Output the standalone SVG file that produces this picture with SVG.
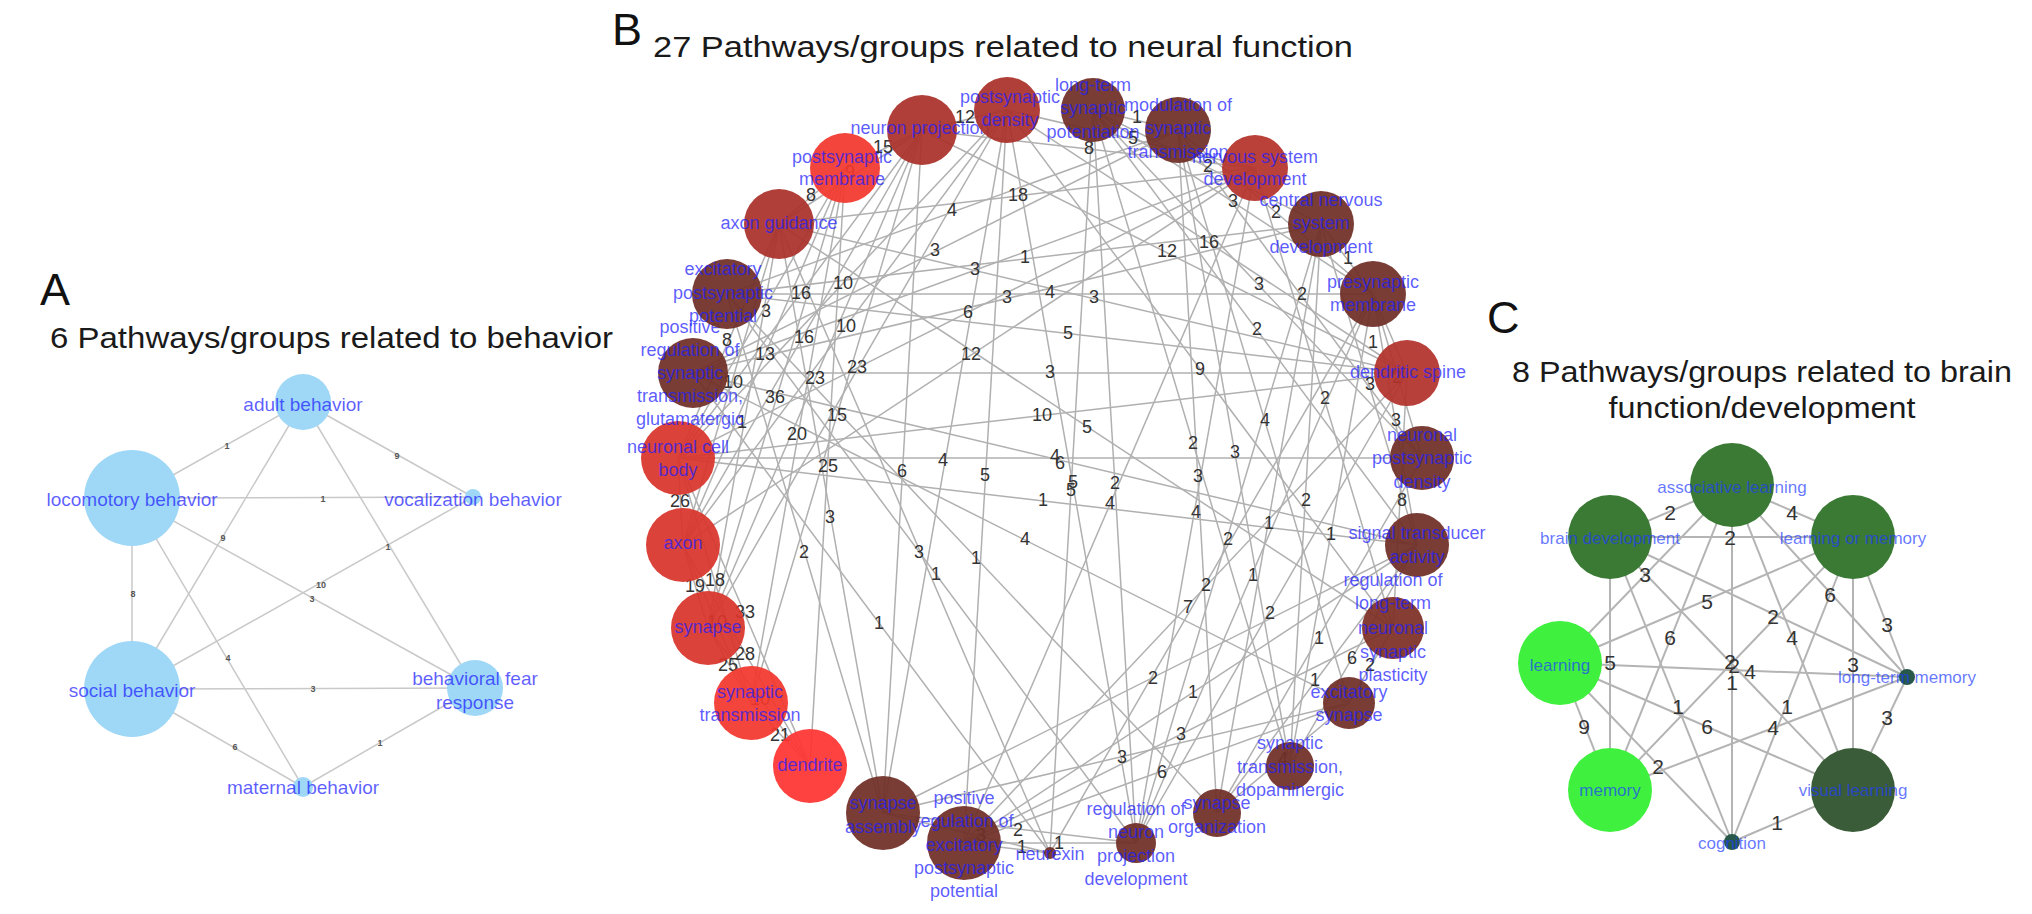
<svg xmlns="http://www.w3.org/2000/svg" width="2032" height="914" viewBox="0 0 2032 914">
<style>
text{font-family:"Liberation Sans",Arial,Helvetica,sans-serif}
.t{font-size:30px;fill:#1a1a1a}
.p{font-size:45px;fill:#111}
.eA line{stroke:#c9c9c9;stroke-width:1.5}
.eB line{stroke:#b0b0b0;stroke-width:1.5}
.eC line{stroke:#b4b4b4;stroke-width:2}
.wA{font-size:9px;font-weight:bold;fill:#555;text-anchor:middle}
.wB{font-size:18px;fill:#333;text-anchor:middle}
.wC{font-size:21px;fill:#333;text-anchor:middle}
.nA{font-size:19px;fill:#1e1eff;fill-opacity:.72;text-anchor:middle}
.nB{font-size:18px;fill:#1e1eff;fill-opacity:.74;text-anchor:middle}
.nC{font-size:17px;fill:#1e3cff;fill-opacity:.7;text-anchor:middle}
.cA{fill:#9fd7f7}
.r1{fill:#f2372d;opacity:.93}
.r2{fill:#d8342b;opacity:.93}
.r3{fill:#aa302a;opacity:.93}
.r4{fill:#6f2e27;opacity:.93}
.g1{fill:#3a7a34}
.g2{fill:#3a5c38}
.g3{fill:#3ff03f}
.g4{fill:#27584a}
</style>
<rect width="2032" height="914" fill="#fff"/>

<g id="titles">
<text class="p" x="40" y="305">A</text>
<text class="t" x="50" y="348" textLength="563" lengthAdjust="spacingAndGlyphs">6 Pathways/groups related to behavior</text>
<text class="p" x="612" y="45">B</text>
<text class="t" x="653" y="57" font-size="32" textLength="700" lengthAdjust="spacingAndGlyphs">27 Pathways/groups related to neural function</text>
<text class="p" x="1487" y="333">C</text>
<text class="t" x="1762" y="382" text-anchor="middle" textLength="500" lengthAdjust="spacingAndGlyphs">8 Pathways/groups related to brain</text>
<text class="t" x="1762" y="418" text-anchor="middle" textLength="307" lengthAdjust="spacingAndGlyphs">function/development</text>
</g>

<!-- Panel A -->
<g id="connectors-a" class="eA">
<line x1="303" y1="402" x2="132" y2="498"/>
<line x1="303" y1="402" x2="473" y2="497"/>
<line x1="132" y1="498" x2="473" y2="497"/>
<line x1="303" y1="402" x2="132" y2="689"/>
<line x1="303" y1="402" x2="475" y2="688"/>
<line x1="473" y1="497" x2="132" y2="689"/>
<line x1="132" y1="498" x2="475" y2="688"/>
<line x1="132" y1="498" x2="132" y2="689"/>
<line x1="132" y1="498" x2="303" y2="787"/>
<line x1="132" y1="689" x2="475" y2="688"/>
<line x1="132" y1="689" x2="303" y2="787"/>
<line x1="475" y1="688" x2="303" y2="787"/>
<text class="wA" x="227" y="449">1</text>
<text class="wA" x="397" y="459">9</text>
<text class="wA" x="323" y="502">1</text>
<text class="wA" x="223" y="541">9</text>
<text class="wA" x="388" y="550">1</text>
<text class="wA" x="321" y="588">10</text>
<text class="wA" x="312" y="602">3</text>
<text class="wA" x="133" y="597">8</text>
<text class="wA" x="228" y="661">4</text>
<text class="wA" x="313" y="692">3</text>
<text class="wA" x="235" y="750">6</text>
<text class="wA" x="380" y="746">1</text>
</g>
<g id="a-adult"><circle class="cA" cx="303" cy="402" r="28"/><text class="nA" x="303" y="411">adult behavior</text></g>
<g id="a-locomotory"><circle class="cA" cx="132" cy="498" r="48"/><text class="nA" x="132" y="506">locomotory behavior</text></g>
<g id="a-vocalization"><circle class="cA" cx="473" cy="497" r="8"/><text class="nA" x="473" y="506">vocalization behavior</text></g>
<g id="a-social"><circle class="cA" cx="132" cy="689" r="48"/><text class="nA" x="132" y="697">social behavior</text></g>
<g id="a-fear"><circle class="cA" cx="475" cy="688" r="28"/><text class="nA"><tspan x="475" y="685">behavioral fear</tspan><tspan x="475" y="709">response</tspan></text></g>
<g id="a-maternal"><circle class="cA" cx="303" cy="787" r="10"/><text class="nA" x="303" y="794">maternal behavior</text></g>

<!-- Panel B -->
<g id="connectors-b" class="eB">
<line x1="1050" y1="853" x2="964" y2="843"/>
<line x1="1050" y1="853" x2="883" y2="813"/>
<line x1="1050" y1="853" x2="693" y2="373"/>
<line x1="1050" y1="853" x2="779" y2="224"/>
<line x1="1050" y1="853" x2="1093" y2="110"/>
<line x1="1050" y1="853" x2="1373" y2="294"/>
<line x1="964" y1="843" x2="1007" y2="110"/>
<line x1="964" y1="843" x2="1255" y2="168"/>
<line x1="964" y1="843" x2="1407" y2="373"/>
<line x1="964" y1="843" x2="1417" y2="545"/>
<line x1="964" y1="843" x2="1393" y2="628"/>
<line x1="964" y1="843" x2="1349" y2="703"/>
<line x1="964" y1="843" x2="1136" y2="843"/>
<line x1="883" y1="813" x2="727" y2="294"/>
<line x1="883" y1="813" x2="779" y2="224"/>
<line x1="883" y1="813" x2="922" y2="130"/>
<line x1="883" y1="813" x2="1007" y2="110"/>
<line x1="883" y1="813" x2="1417" y2="545"/>
<line x1="883" y1="813" x2="1349" y2="703"/>
<line x1="883" y1="813" x2="1136" y2="843"/>
<line x1="810" y1="766" x2="751" y2="703"/>
<line x1="810" y1="766" x2="708" y2="628"/>
<line x1="810" y1="766" x2="683" y2="545"/>
<line x1="810" y1="766" x2="678" y2="458"/>
<line x1="810" y1="766" x2="845" y2="168"/>
<line x1="751" y1="703" x2="708" y2="628"/>
<line x1="751" y1="703" x2="683" y2="545"/>
<line x1="751" y1="703" x2="678" y2="458"/>
<line x1="751" y1="703" x2="845" y2="168"/>
<line x1="751" y1="703" x2="922" y2="130"/>
<line x1="708" y1="628" x2="683" y2="545"/>
<line x1="708" y1="628" x2="779" y2="224"/>
<line x1="708" y1="628" x2="845" y2="168"/>
<line x1="708" y1="628" x2="922" y2="130"/>
<line x1="708" y1="628" x2="1007" y2="110"/>
<line x1="683" y1="545" x2="678" y2="458"/>
<line x1="683" y1="545" x2="779" y2="224"/>
<line x1="683" y1="545" x2="845" y2="168"/>
<line x1="683" y1="545" x2="922" y2="130"/>
<line x1="683" y1="545" x2="1007" y2="110"/>
<line x1="683" y1="545" x2="1255" y2="168"/>
<line x1="678" y1="458" x2="779" y2="224"/>
<line x1="678" y1="458" x2="845" y2="168"/>
<line x1="678" y1="458" x2="922" y2="130"/>
<line x1="678" y1="458" x2="1007" y2="110"/>
<line x1="678" y1="458" x2="1255" y2="168"/>
<line x1="678" y1="458" x2="1407" y2="373"/>
<line x1="678" y1="458" x2="1422" y2="458"/>
<line x1="678" y1="458" x2="1417" y2="545"/>
<line x1="693" y1="373" x2="1178" y2="130"/>
<line x1="693" y1="373" x2="1255" y2="168"/>
<line x1="693" y1="373" x2="1321" y2="224"/>
<line x1="693" y1="373" x2="1407" y2="373"/>
<line x1="693" y1="373" x2="1417" y2="545"/>
<line x1="693" y1="373" x2="1349" y2="703"/>
<line x1="727" y1="294" x2="1178" y2="130"/>
<line x1="727" y1="294" x2="1321" y2="224"/>
<line x1="727" y1="294" x2="1373" y2="294"/>
<line x1="727" y1="294" x2="1407" y2="373"/>
<line x1="727" y1="294" x2="1217" y2="813"/>
<line x1="727" y1="294" x2="1136" y2="843"/>
<line x1="779" y1="224" x2="845" y2="168"/>
<line x1="779" y1="224" x2="922" y2="130"/>
<line x1="779" y1="224" x2="1255" y2="168"/>
<line x1="779" y1="224" x2="1407" y2="373"/>
<line x1="779" y1="224" x2="1393" y2="628"/>
<line x1="845" y1="168" x2="922" y2="130"/>
<line x1="922" y1="130" x2="1007" y2="110"/>
<line x1="922" y1="130" x2="1255" y2="168"/>
<line x1="922" y1="130" x2="1407" y2="373"/>
<line x1="1007" y1="110" x2="1255" y2="168"/>
<line x1="1007" y1="110" x2="1407" y2="373"/>
<line x1="1007" y1="110" x2="1393" y2="628"/>
<line x1="1007" y1="110" x2="1136" y2="843"/>
<line x1="1093" y1="110" x2="1178" y2="130"/>
<line x1="1093" y1="110" x2="1321" y2="224"/>
<line x1="1093" y1="110" x2="1373" y2="294"/>
<line x1="1093" y1="110" x2="1422" y2="458"/>
<line x1="1093" y1="110" x2="1417" y2="545"/>
<line x1="1093" y1="110" x2="1290" y2="766"/>
<line x1="1093" y1="110" x2="1136" y2="843"/>
<line x1="1178" y1="130" x2="1373" y2="294"/>
<line x1="1178" y1="130" x2="1422" y2="458"/>
<line x1="1178" y1="130" x2="1349" y2="703"/>
<line x1="1178" y1="130" x2="1290" y2="766"/>
<line x1="1178" y1="130" x2="1217" y2="813"/>
<line x1="1255" y1="168" x2="1393" y2="628"/>
<line x1="1255" y1="168" x2="1136" y2="843"/>
<line x1="1321" y1="224" x2="1373" y2="294"/>
<line x1="1321" y1="224" x2="1417" y2="545"/>
<line x1="1321" y1="224" x2="1290" y2="766"/>
<line x1="1321" y1="224" x2="1217" y2="813"/>
<line x1="1321" y1="224" x2="1136" y2="843"/>
<line x1="1373" y1="294" x2="1407" y2="373"/>
<line x1="1373" y1="294" x2="1422" y2="458"/>
<line x1="1373" y1="294" x2="1417" y2="545"/>
<line x1="1373" y1="294" x2="1290" y2="766"/>
<line x1="1373" y1="294" x2="1136" y2="843"/>
<line x1="1407" y1="373" x2="1393" y2="628"/>
<line x1="1407" y1="373" x2="1136" y2="843"/>
<line x1="1422" y1="458" x2="1217" y2="813"/>
<line x1="1417" y1="545" x2="1290" y2="766"/>
<line x1="1417" y1="545" x2="1217" y2="813"/>
<line x1="1393" y1="628" x2="1349" y2="703"/>
<line x1="1349" y1="703" x2="1217" y2="813"/>
<text class="wB" x="1022" y="853">1</text>
<text class="wB" x="981" y="841">3</text>
<text class="wB" x="879" y="629">1</text>
<text class="wB" x="919" y="558">3</text>
<text class="wB" x="1071" y="496">5</text>
<text class="wB" x="1206" y="591">2</text>
<text class="wB" x="985" y="481">5</text>
<text class="wB" x="1110" y="509">4</text>
<text class="wB" x="1188" y="613">7</text>
<text class="wB" x="1193" y="698">1</text>
<text class="wB" x="1181" y="740">3</text>
<text class="wB" x="1162" y="778">6</text>
<text class="wB" x="1059" y="849">1</text>
<text class="wB" x="804" y="558">2</text>
<text class="wB" x="830" y="523">3</text>
<text class="wB" x="902" y="477">6</text>
<text class="wB" x="943" y="466">4</text>
<text class="wB" x="1153" y="684">2</text>
<text class="wB" x="1122" y="763">3</text>
<text class="wB" x="1018" y="836">2</text>
<text class="wB" x="780" y="741">21</text>
<text class="wB" x="760" y="705">10</text>
<text class="wB" x="745" y="660">28</text>
<text class="wB" x="745" y="618">33</text>
<text class="wB" x="828" y="472">25</text>
<text class="wB" x="728" y="671">25</text>
<text class="wB" x="717" y="628">10</text>
<text class="wB" x="715" y="586">18</text>
<text class="wB" x="797" y="440">20</text>
<text class="wB" x="837" y="421">15</text>
<text class="wB" x="695" y="592">19</text>
<text class="wB" x="742" y="428">1</text>
<text class="wB" x="775" y="403">36</text>
<text class="wB" x="815" y="384">23</text>
<text class="wB" x="857" y="373">23</text>
<text class="wB" x="680" y="507">26</text>
<text class="wB" x="733" y="388">10</text>
<text class="wB" x="765" y="360">13</text>
<text class="wB" x="804" y="343">16</text>
<text class="wB" x="846" y="332">10</text>
<text class="wB" x="971" y="360">12</text>
<text class="wB" x="727" y="346">8</text>
<text class="wB" x="766" y="317">3</text>
<text class="wB" x="801" y="299">16</text>
<text class="wB" x="843" y="289">10</text>
<text class="wB" x="968" y="318">6</text>
<text class="wB" x="1042" y="421">10</text>
<text class="wB" x="1055" y="462">4</text>
<text class="wB" x="1043" y="506">1</text>
<text class="wB" x="935" y="256">3</text>
<text class="wB" x="975" y="275">3</text>
<text class="wB" x="1007" y="303">3</text>
<text class="wB" x="1050" y="378">3</text>
<text class="wB" x="1060" y="469">6</text>
<text class="wB" x="1025" y="545">4</text>
<text class="wB" x="952" y="216">4</text>
<text class="wB" x="1025" y="263">1</text>
<text class="wB" x="1050" y="298">4</text>
<text class="wB" x="1068" y="339">5</text>
<text class="wB" x="976" y="564">1</text>
<text class="wB" x="936" y="580">1</text>
<text class="wB" x="811" y="201">8</text>
<text class="wB" x="850" y="178">9</text>
<text class="wB" x="1018" y="201">18</text>
<text class="wB" x="1094" y="303">3</text>
<text class="wB" x="1087" y="433">5</text>
<text class="wB" x="883" y="153">15</text>
<text class="wB" x="965" y="123">12</text>
<text class="wB" x="1089" y="154">8</text>
<text class="wB" x="1167" y="257">12</text>
<text class="wB" x="1133" y="144">5</text>
<text class="wB" x="1209" y="248">16</text>
<text class="wB" x="1200" y="375">9</text>
<text class="wB" x="1073" y="488">5</text>
<text class="wB" x="1137" y="123">1</text>
<text class="wB" x="1208" y="172">2</text>
<text class="wB" x="1233" y="207">3</text>
<text class="wB" x="1259" y="290">3</text>
<text class="wB" x="1257" y="335">2</text>
<text class="wB" x="1193" y="449">2</text>
<text class="wB" x="1115" y="489">2</text>
<text class="wB" x="1276" y="218">2</text>
<text class="wB" x="1302" y="300">2</text>
<text class="wB" x="1265" y="426">4</text>
<text class="wB" x="1235" y="458">3</text>
<text class="wB" x="1198" y="482">3</text>
<text class="wB" x="1325" y="404">2</text>
<text class="wB" x="1196" y="518">4</text>
<text class="wB" x="1348" y="264">1</text>
<text class="wB" x="1370" y="390">3</text>
<text class="wB" x="1306" y="506">2</text>
<text class="wB" x="1269" y="529">1</text>
<text class="wB" x="1228" y="545">2</text>
<text class="wB" x="1373" y="348">1</text>
<text class="wB" x="1397" y="383">2</text>
<text class="wB" x="1396" y="426">3</text>
<text class="wB" x="1331" y="540">1</text>
<text class="wB" x="1253" y="581">1</text>
<text class="wB" x="1402" y="506">8</text>
<text class="wB" x="1270" y="619">2</text>
<text class="wB" x="1319" y="644">1</text>
<text class="wB" x="1352" y="664">6</text>
<text class="wB" x="1315" y="686">1</text>
<text class="wB" x="1370" y="671">2</text>
<text class="wB" x="1283" y="765">4</text>
</g>

<g id="b-neurexin"><circle class="r4" cx="1050" cy="853" r="6"/><text class="nB" x="1050" y="860">neurexin</text></g>
<g id="b-pos-reg-excitatory-psp"><circle class="r4" cx="964" cy="843" r="37"/><text class="nB"><tspan x="964" y="804">positive</tspan><tspan x="964" y="827">regulation of</tspan><tspan x="964" y="851">excitatory</tspan><tspan x="964" y="874">postsynaptic</tspan><tspan x="964" y="897">potential</tspan></text></g>
<g id="b-synapse-assembly"><circle class="r4" cx="883" cy="813" r="37"/><text class="nB"><tspan x="883" y="809">synapse</tspan><tspan x="883" y="833">assembly</tspan></text></g>
<g id="b-dendrite"><circle fill="#fe3431" opacity=".93" cx="810" cy="766" r="37"/><text class="nB" x="810" y="771">dendrite</text></g>
<g id="b-synaptic-transmission"><circle class="r1" cx="751" cy="703" r="37"/><text class="nB"><tspan x="750" y="698">synaptic</tspan><tspan x="750" y="721">transmission</tspan></text></g>
<g id="b-synapse"><circle class="r2" cx="708" cy="628" r="37"/><text class="nB" x="708" y="633">synapse</text></g>
<g id="b-axon"><circle class="r2" cx="683" cy="545" r="37"/><text class="nB" x="683" y="549">axon</text></g>
<g id="b-neuronal-cell-body"><circle class="r2" cx="678" cy="458" r="37"/><text class="nB"><tspan x="678" y="453">neuronal cell</tspan><tspan x="678" y="476">body</tspan></text></g>
<g id="b-pos-reg-glutamatergic"><circle class="r4" cx="693" cy="373" r="35"/><text class="nB"><tspan x="690" y="333">positive</tspan><tspan x="690" y="356">regulation of</tspan><tspan x="690" y="379">synaptic</tspan><tspan x="690" y="402">transmission,</tspan><tspan x="690" y="425">glutamatergic</tspan></text></g>
<g id="b-excitatory-psp"><circle class="r4" cx="727" cy="294" r="35"/><text class="nB"><tspan x="723" y="275">excitatory</tspan><tspan x="723" y="299">postsynaptic</tspan><tspan x="723" y="322">potential</tspan></text></g>
<g id="b-axon-guidance"><circle class="r3" cx="779" cy="224" r="35"/><text class="nB" x="779" y="229">axon guidance</text></g>
<g id="b-postsynaptic-membrane"><circle class="r1" cx="845" cy="168" r="35"/><text class="nB"><tspan x="842" y="163">postsynaptic</tspan><tspan x="842" y="185">membrane</tspan></text></g>
<g id="b-neuron-projection"><circle class="r3" cx="922" cy="130" r="35"/><text class="nB" x="920" y="134">neuron projection</text></g>
<g id="b-postsynaptic-density"><circle class="r3" cx="1007" cy="110" r="33"/><text class="nB"><tspan x="1010" y="103">postsynaptic</tspan><tspan x="1010" y="126">density</tspan></text></g>
<g id="b-ltp"><circle class="r4" cx="1093" cy="110" r="32"/><text class="nB"><tspan x="1093" y="91">long-term</tspan><tspan x="1093" y="114">synaptic</tspan><tspan x="1093" y="138">potentiation</tspan></text></g>
<g id="b-modulation"><circle class="r4" cx="1178" cy="130" r="33"/><text class="nB"><tspan x="1178" y="111">modulation of</tspan><tspan x="1178" y="134">synaptic</tspan><tspan x="1178" y="158">transmission</tspan></text></g>
<g id="b-nervous-system-dev"><circle fill="#b5322b" opacity=".93" cx="1255" cy="168" r="33"/><text class="nB"><tspan x="1255" y="163">nervous system</tspan><tspan x="1255" y="185">development</tspan></text></g>
<g id="b-cns-dev"><circle class="r4" cx="1321" cy="224" r="33"/><text class="nB"><tspan x="1321" y="206">central nervous</tspan><tspan x="1321" y="229">system</tspan><tspan x="1321" y="253">development</tspan></text></g>
<g id="b-presynaptic-membrane"><circle class="r4" cx="1373" cy="294" r="33"/><text class="nB"><tspan x="1373" y="288">presynaptic</tspan><tspan x="1373" y="311">membrane</tspan></text></g>
<g id="b-dendritic-spine"><circle fill="#b3322b" opacity=".93" cx="1407" cy="373" r="33"/><text class="nB" x="1408" y="378">dendritic spine</text></g>
<g id="b-neuronal-psd"><circle class="r4" cx="1422" cy="458" r="32"/><text class="nB"><tspan x="1422" y="441">neuronal</tspan><tspan x="1422" y="464">postsynaptic</tspan><tspan x="1422" y="488">density</tspan></text></g>
<g id="b-signal-transducer"><circle class="r4" cx="1417" cy="545" r="32"/><text class="nB"><tspan x="1417" y="539">signal transducer</tspan><tspan x="1417" y="563">activity</tspan></text></g>
<g id="b-reg-lt-plasticity"><circle fill="#7c2e25" opacity=".93" cx="1393" cy="628" r="31"/><text class="nB"><tspan x="1393" y="586">regulation of</tspan><tspan x="1393" y="609">long-term</tspan><tspan x="1393" y="634">neuronal</tspan><tspan x="1393" y="658">synaptic</tspan><tspan x="1393" y="681">plasticity</tspan></text></g>
<g id="b-excitatory-synapse"><circle class="r4" cx="1349" cy="703" r="26"/><text class="nB"><tspan x="1349" y="698">excitatory</tspan><tspan x="1349" y="721">synapse</tspan></text></g>
<g id="b-dopaminergic"><circle class="r4" cx="1290" cy="766" r="24"/><text class="nB"><tspan x="1290" y="749">synaptic</tspan><tspan x="1290" y="773">transmission,</tspan><tspan x="1290" y="796">dopaminergic</tspan></text></g>
<g id="b-synapse-organization"><circle class="r4" cx="1217" cy="813" r="24"/><text class="nB"><tspan x="1217" y="809">synapse</tspan><tspan x="1217" y="833">organization</tspan></text></g>
<g id="b-reg-neuron-proj-dev"><circle class="r4" cx="1136" cy="843" r="20"/><text class="nB"><tspan x="1136" y="815">regulation of</tspan><tspan x="1136" y="838">neuron</tspan><tspan x="1136" y="862">projection</tspan><tspan x="1136" y="885">development</tspan></text></g>

<!-- Panel C -->
<g id="connectors-c" class="eC">
<line x1="1732" y1="485" x2="1610" y2="537"/>
<line x1="1732" y1="485" x2="1853" y2="537"/>
<line x1="1610" y1="537" x2="1853" y2="537"/>
<line x1="1732" y1="485" x2="1560" y2="663"/>
<line x1="1560" y1="663" x2="1853" y2="537"/>
<line x1="1732" y1="485" x2="1907" y2="677"/>
<line x1="1610" y1="537" x2="1907" y2="677"/>
<line x1="1853" y1="537" x2="1907" y2="677"/>
<line x1="1732" y1="485" x2="1610" y2="790"/>
<line x1="1732" y1="485" x2="1853" y2="790"/>
<line x1="1853" y1="537" x2="1853" y2="790"/>
<line x1="1732" y1="485" x2="1732" y2="842"/>
<line x1="1610" y1="537" x2="1853" y2="790"/>
<line x1="1853" y1="537" x2="1610" y2="790"/>
<line x1="1560" y1="663" x2="1907" y2="677"/>
<line x1="1610" y1="537" x2="1610" y2="790"/>
<line x1="1907" y1="677" x2="1853" y2="790"/>
<line x1="1560" y1="663" x2="1610" y2="790"/>
<line x1="1610" y1="537" x2="1732" y2="842"/>
<line x1="1560" y1="663" x2="1853" y2="790"/>
<line x1="1853" y1="537" x2="1732" y2="842"/>
<line x1="1610" y1="790" x2="1907" y2="677"/>
<line x1="1560" y1="663" x2="1732" y2="842"/>
<line x1="1732" y1="842" x2="1853" y2="790"/>
<text class="wC" x="1670" y="520">2</text>
<text class="wC" x="1792" y="520">4</text>
<text class="wC" x="1730" y="545">2</text>
<text class="wC" x="1645" y="582">3</text>
<text class="wC" x="1707" y="609">5</text>
<text class="wC" x="1830" y="602">6</text>
<text class="wC" x="1773" y="624">2</text>
<text class="wC" x="1887" y="632">3</text>
<text class="wC" x="1670" y="645">6</text>
<text class="wC" x="1792" y="645">4</text>
<text class="wC" x="1853" y="672">3</text>
<text class="wC" x="1730" y="669">2</text>
<text class="wC" x="1734" y="673">2</text>
<text class="wC" x="1732" y="690">1</text>
<text class="wC" x="1750" y="679">4</text>
<text class="wC" x="1610" y="670">5</text>
<text class="wC" x="1887" y="725">3</text>
<text class="wC" x="1584" y="734">9</text>
<text class="wC" x="1678" y="714">1</text>
<text class="wC" x="1707" y="734">6</text>
<text class="wC" x="1787" y="714">1</text>
<text class="wC" x="1773" y="735">4</text>
<text class="wC" x="1658" y="774">2</text>
<text class="wC" x="1777" y="830">1</text>
</g>
<g id="c-associative-learning"><circle class="g1" cx="1732" cy="485" r="42"/><text class="nC" x="1732" y="493">associative learning</text></g>
<g id="c-brain-development"><circle class="g1" cx="1610" cy="537" r="42"/><text class="nC" x="1610" y="544">brain development</text></g>
<g id="c-learning-or-memory"><circle class="g1" cx="1853" cy="537" r="42"/><text class="nC" x="1853" y="544">learning or memory</text></g>
<g id="c-learning"><circle class="g3" cx="1560" cy="663" r="42"/><text class="nC" x="1560" y="671">learning</text></g>
<g id="c-long-term-memory"><circle class="g4" cx="1907" cy="677" r="8"/><text class="nC" x="1907" y="683">long-term memory</text></g>
<g id="c-memory"><circle class="g3" cx="1610" cy="790" r="42"/><text class="nC" x="1610" y="796">memory</text></g>
<g id="c-visual-learning"><circle class="g2" cx="1853" cy="790" r="42"/><text class="nC" x="1853" y="796">visual learning</text></g>
<g id="c-cognition"><circle class="g4" cx="1732" cy="842" r="8"/><text class="nC" x="1732" y="849">cognition</text></g>
</svg>
